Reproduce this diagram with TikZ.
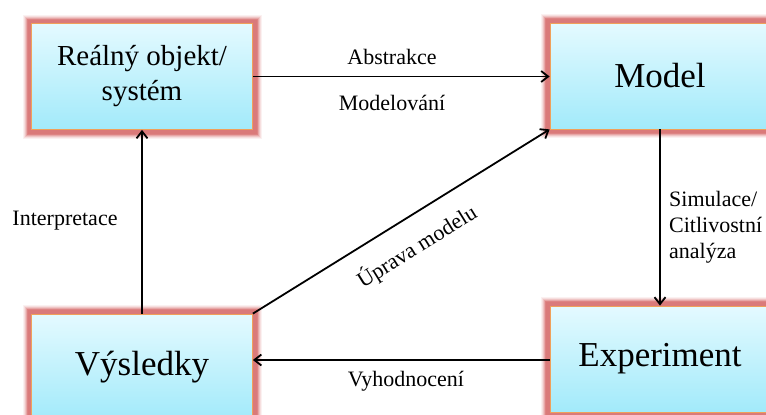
\documentclass[tikz,border=0pt]{standalone}
\usepackage{fontspec}
\setmainfont{Liberation Serif}
\usetikzlibrary{arrows.meta}

\definecolor{glowc}{RGB}{218,120,120}
\definecolor{edgec}{RGB}{240,160,90}
\definecolor{boxtop}{RGB}{228,250,255}
\definecolor{boxbot}{RGB}{162,234,250}

\tikzset{
  stagebox/.style={
    minimum width=221pt, minimum height=106pt, inner sep=0pt,
    align=center, font=\fontsize{35}{40}\selectfont,
    preaction={draw=glowc, draw opacity=0.10, line width=18pt},
    preaction={draw=glowc, draw opacity=0.15, line width=16pt},
    preaction={draw=glowc, draw opacity=0.25, line width=14pt},
    preaction={draw=glowc, draw opacity=0.40, line width=12pt},
    preaction={draw=glowc, draw opacity=0.75, line width=10pt},
    preaction={draw=glowc, draw opacity=0.85, line width=8pt},
    top color=boxtop, bottom color=boxbot,
    draw=edgec, line width=0.8pt
  },
  flow/.style={draw=black, line width=1.8pt, -{Straight Barb[length=7pt,width=11pt]}},
  lbl/.style={font=\fontsize{22}{26}\selectfont, inner sep=2pt}
}

\begin{document}
\begin{tikzpicture}[x=1pt,y=-1pt]
  \useasboundingbox (0,0) rectangle (766,415);
  \begin{scope}
    \clip (0,0) rectangle (766,415);

    % the four stages of the modelling cycle
    \node[stagebox, font=\fontsize{29}{35}\selectfont] (real) at (142,76.5) {Reálný objekt/\\systém};
    \node[stagebox, minimum width=220pt] (model) at (660,76) {Model};
    \node[stagebox] (vys) at (142,367) {Výsledky};
    \node[stagebox, minimum width=220pt] (exp) at (660,359) {Experiment};

    % transitions between the stages
    \draw[flow] (real.east) -- (real.east -| model.west);
    \draw[flow] (model.south) -- (exp.north);
    \draw[flow] (exp.west) ++(0,1) coordinate (expw) -- (expw -| vys.east);
    \draw[flow] (vys.north -| real.south) -- (real.south);
    \draw[flow] (vys.north east) -- (model.south west)
      node[lbl, sloped, pos=0.5, below=15pt] (uprava) {Úprava modelu};
  \end{scope}

  % transition labels
  \node[lbl] (abstr) at (392,57) {Abstrakce};
  \node[lbl] (modelov) at (392,103) {Modelování};
  \node[lbl] (interp) at (65,221) {Interpretace};
  \node[lbl, align=left, anchor=west] (simul) at (667,227) {Simulace/\\Citlivostní\\analýza};
  \node[lbl] (vyhod) at (406,381) {Vyhodnocení};
\end{tikzpicture}
\end{document}
